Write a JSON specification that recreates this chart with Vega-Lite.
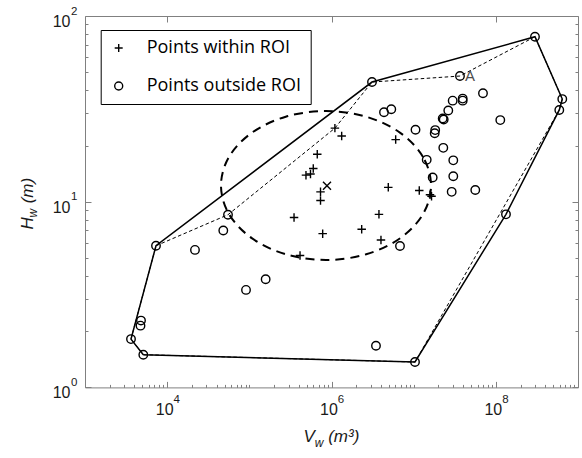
{
  "$schema": "https://vega.github.io/schema/vega-lite/v6.json",
  "width": 493,
  "height": 371.4,
  "autosize": {"type": "none"},
  "padding": {"left": 85, "top": 16, "right": 4, "bottom": 70.6},
  "background": "white",
  "config": {
    "view": {"stroke": "#808080", "strokeWidth": 1},
    "axis": {
      "grid": false,
      "domain": false,
      "tickColor": "#808080",
      "tickWidth": 1,
      "labelFont": "Liberation Sans",
      "labelFontSize": 16,
      "labelColor": "#1a1a1a",
      "titleFont": "Liberation Sans",
      "titleFontSize": 17,
      "titleFontStyle": "italic",
      "titleFontWeight": "normal",
      "titleColor": "#1a1a1a"
    }
  },
  "datasets": {
    "points": [
      {"V": 1.10e6, "H": 24.9, "type": "Points within ROI"},
      {"V": 1.33e6, "H": 22.6, "type": "Points within ROI"},
      {"V": 6.71e5, "H": 18.0, "type": "Points within ROI"},
      {"V": 4.89e5, "H": 13.9, "type": "Points within ROI"},
      {"V": 5.55e5, "H": 14.1, "type": "Points within ROI"},
      {"V": 6.00e5, "H": 15.1, "type": "Points within ROI"},
      {"V": 7.35e5, "H": 11.3, "type": "Points within ROI"},
      {"V": 7.35e5, "H": 10.15, "type": "Points within ROI"},
      {"V": 3.50e5, "H": 8.22, "type": "Points within ROI"},
      {"V": 7.81e5, "H": 6.73, "type": "Points within ROI"},
      {"V": 4.14e5, "H": 5.13, "type": "Points within ROI"},
      {"V": 6.04e6, "H": 21.6, "type": "Points within ROI"},
      {"V": 4.91e6, "H": 11.95, "type": "Points within ROI"},
      {"V": 1.17e7, "H": 11.5, "type": "Points within ROI"},
      {"V": 1.58e7, "H": 10.9, "type": "Points within ROI"},
      {"V": 1.65e7, "H": 10.7, "type": "Points within ROI"},
      {"V": 3.78e6, "H": 8.55, "type": "Points within ROI"},
      {"V": 2.33e6, "H": 7.10, "type": "Points within ROI"},
      {"V": 4.00e6, "H": 6.22, "type": "Points within ROI"},
      {"V": 2.995e8, "H": 77.35, "type": "Points outside ROI"},
      {"V": 3.661e7, "H": 47.5, "type": "Points outside ROI"},
      {"V": 3.111e6, "H": 44.1, "type": "Points outside ROI"},
      {"V": 6.437e8, "H": 35.7, "type": "Points outside ROI"},
      {"V": 5.92e8, "H": 31.2, "type": "Points outside ROI"},
      {"V": 4.354e6, "H": 30.3, "type": "Points outside ROI"},
      {"V": 5.34e6, "H": 31.45, "type": "Points outside ROI"},
      {"V": 2.984e7, "H": 35.0, "type": "Points outside ROI"},
      {"V": 3.95e7, "H": 35.9, "type": "Points outside ROI"},
      {"V": 3.95e7, "H": 35.0, "type": "Points outside ROI"},
      {"V": 6.976e7, "H": 38.35, "type": "Points outside ROI"},
      {"V": 2.638e7, "H": 31.0, "type": "Points outside ROI"},
      {"V": 2.256e7, "H": 28.05, "type": "Points outside ROI"},
      {"V": 2.32e7, "H": 27.7, "type": "Points outside ROI"},
      {"V": 1.133e8, "H": 27.5, "type": "Points outside ROI"},
      {"V": 1.053e7, "H": 24.4, "type": "Points outside ROI"},
      {"V": 1.828e7, "H": 24.3, "type": "Points outside ROI"},
      {"V": 1.803e7, "H": 23.35, "type": "Points outside ROI"},
      {"V": 2.294e7, "H": 19.5, "type": "Points outside ROI"},
      {"V": 3.035e7, "H": 16.7, "type": "Points outside ROI"},
      {"V": 1.441e7, "H": 16.8, "type": "Points outside ROI"},
      {"V": 1.704e7, "H": 13.5, "type": "Points outside ROI"},
      {"V": 3.035e7, "H": 13.7, "type": "Points outside ROI"},
      {"V": 2.902e7, "H": 11.3, "type": "Points outside ROI"},
      {"V": 5.622e7, "H": 11.56, "type": "Points outside ROI"},
      {"V": 6.817e6, "H": 5.77, "type": "Points outside ROI"},
      {"V": 1.329e8, "H": 8.55, "type": "Points outside ROI"},
      {"V": 3.478e6, "H": 1.677, "type": "Points outside ROI"},
      {"V": 1.038e7, "H": 1.370, "type": "Points outside ROI"},
      {"V": 7313, "H": 5.79, "type": "Points outside ROI"},
      {"V": 5.5e4, "H": 8.51, "type": "Points outside ROI"},
      {"V": 4.82e4, "H": 7.00, "type": "Points outside ROI"},
      {"V": 2.18e4, "H": 5.50, "type": "Points outside ROI"},
      {"V": 1.58e5, "H": 3.82, "type": "Points outside ROI"},
      {"V": 9.11e4, "H": 3.35, "type": "Points outside ROI"},
      {"V": 4803, "H": 2.29, "type": "Points outside ROI"},
      {"V": 4736, "H": 2.15, "type": "Points outside ROI"},
      {"V": 3629, "H": 1.82, "type": "Points outside ROI"},
      {"V": 5124, "H": 1.50, "type": "Points outside ROI"}
    ],
    "hull": [
      {"i": 0, "V": 5124, "H": 1.50},
      {"i": 1, "V": 3629, "H": 1.82},
      {"i": 2, "V": 7313, "H": 5.79},
      {"i": 3, "V": 3.111e6, "H": 44.1},
      {"i": 4, "V": 2.995e8, "H": 77.35},
      {"i": 5, "V": 6.437e8, "H": 35.7},
      {"i": 6, "V": 5.92e8, "H": 31.2},
      {"i": 7, "V": 1.329e8, "H": 8.55},
      {"i": 8, "V": 1.038e7, "H": 1.370},
      {"i": 9, "V": 5124, "H": 1.50}
    ],
    "inner": [
      {"i": 0, "V": 7313, "H": 5.79},
      {"i": 1, "V": 5.5e4, "H": 8.51},
      {"i": 2, "V": 1.10e6, "H": 24.9},
      {"i": 3, "V": 3.111e6, "H": 44.1},
      {"i": 4, "V": 3.661e7, "H": 47.5},
      {"i": 5, "V": 2.995e8, "H": 77.35},
      {"i": 6, "V": 6.437e8, "H": 35.7},
      {"i": 7, "V": 5.92e8, "H": 31.2},
      {"i": 8, "V": 1.038e7, "H": 1.370},
      {"i": 9, "V": 5124, "H": 1.50},
      {"i": 10, "V": 3629, "H": 1.82},
      {"i": 11, "V": 7313, "H": 5.79}
    ],
    "roi": [
      {"i": 0, "V": 1.626e7, "H": 12.22},
      {"i": 1, "V": 1.30e7, "H": 17.41},
      {"i": 2, "V": 6.866e6, "H": 23.49},
      {"i": 3, "V": 2.645e6, "H": 28.69},
      {"i": 4, "V": 8.57e5, "H": 30.77},
      {"i": 5, "V": 2.777e5, "H": 28.69},
      {"i": 6, "V": 1.07e5, "H": 23.49},
      {"i": 7, "V": 5.65e4, "H": 17.41},
      {"i": 8, "V": 4.52e4, "H": 12.22},
      {"i": 9, "V": 5.65e4, "H": 8.58},
      {"i": 10, "V": 1.07e5, "H": 6.365},
      {"i": 11, "V": 2.777e5, "H": 5.21},
      {"i": 12, "V": 8.57e5, "H": 4.856},
      {"i": 13, "V": 2.645e6, "H": 5.21},
      {"i": 14, "V": 6.866e6, "H": 6.365},
      {"i": 15, "V": 1.30e7, "H": 8.58}
    ],
    "centre": [{"V": 8.81e5, "H": 12.18}],
    "tags": [{"V": 3.661e7, "H": 47.5, "label": "A"}]
  },
  "resolve": {"axis": {"x": "independent", "y": "independent"}},
  "layer": [
    {
      "data": {"name": "roi"},
      "mark": {"type": "line", "interpolate": "cardinal-closed", "color": "black", "strokeWidth": 2, "strokeDash": [9, 6]},
      "encoding": {
        "x": {"field": "V", "type": "quantitative", "scale": {"type": "log", "domain": [1000, 1000000000]},
          "axis": {"orient": "bottom", "values": [10000, 1000000, 100000000],
            "labelExpr": "'10'",
            "ticks": false, "labelPadding": 26.6, "labelOffset": -3, "labelBaseline": "alphabetic", "labelFlush": false, "labelOverlap": false,
            "title": "V", "titleX": 218, "titleY": 53.6, "titleAlign": "left", "titleBaseline": "alphabetic", "titleAngle": 0}},
        "y": {"field": "H", "type": "quantitative", "scale": {"type": "log", "domain": [1, 100]},
          "axis": {"orient": "left", "values": [1, 10, 100],
            "labelExpr": "'10'",
            "ticks": false, "labelPadding": 15, "labelBaseline": "alphabetic", "labelOffset": 10.3, "labelFlush": false, "labelOverlap": false,
            "title": "H", "titleX": -53, "titleY": 213, "titleAlign": "left", "titleBaseline": "alphabetic", "titleAngle": 270}},
        "order": {"field": "i", "type": "quantitative"}
      }
    },
    {
      "data": {"name": "inner"},
      "mark": {"type": "line", "color": "black", "strokeWidth": 1, "strokeDash": [3.5, 2.5]},
      "encoding": {
        "x": {"field": "V", "type": "quantitative", "scale": {"type": "log", "domain": [1000, 1000000000]},
          "axis": {"orient": "bottom", "values": [10000, 1000000, 100000000], "tickSize": -6,
            "labelExpr": "datum.value == 10000 ? '4' : datum.value == 1000000 ? '6' : '8'",
            "labelFontSize": 11.5, "labelPadding": 20.6, "labelOffset": 9, "labelBaseline": "alphabetic", "labelFlush": false, "labelOverlap": false,
            "title": "w", "titleX": 229.3, "titleY": 58.6, "titleAlign": "left", "titleBaseline": "alphabetic", "titleFontSize": 12, "titleAngle": 0}},
        "y": {"field": "H", "type": "quantitative", "scale": {"type": "log", "domain": [1, 100]},
          "axis": {"orient": "left", "values": [1, 10, 100], "tickSize": -6,
            "labelExpr": "datum.value == 1 ? '0' : datum.value == 10 ? '1' : '2'",
            "labelFontSize": 11.5, "labelPadding": 14, "labelOffset": -2, "labelBaseline": "alphabetic", "labelFlush": false, "labelOverlap": false,
            "title": "w", "titleX": -48.5, "titleY": 201, "titleAlign": "left", "titleBaseline": "alphabetic", "titleFontSize": 12, "titleAngle": 270}},
        "order": {"field": "i", "type": "quantitative"}
      }
    },
    {
      "data": {"name": "hull"},
      "mark": {"type": "line", "color": "black", "strokeWidth": 1.5},
      "encoding": {
        "x": {"field": "V", "type": "quantitative", "scale": {"type": "log", "domain": [1000, 1000000000]},
          "axis": {"orient": "bottom", "labels": false, "tickSize": -3,
            "values": [2000, 3000, 4000, 5000, 6000, 7000, 8000, 9000, 20000, 30000, 40000, 50000, 60000, 70000, 80000, 90000, 100000, 200000, 300000, 400000, 500000, 600000, 700000, 800000, 900000, 2000000, 3000000, 4000000, 5000000, 6000000, 7000000, 8000000, 9000000, 10000000, 20000000, 30000000, 40000000, 50000000, 60000000, 70000000, 80000000, 90000000, 200000000, 300000000, 400000000, 500000000, 600000000, 700000000, 800000000, 900000000],
            "title": "(m\u00b3)", "titleX": 242.7, "titleY": 53.6, "titleAlign": "left", "titleBaseline": "alphabetic", "titleAngle": 0}},
        "y": {"field": "H", "type": "quantitative", "scale": {"type": "log", "domain": [1, 100]},
          "axis": {"orient": "left", "labels": false, "tickSize": -3,
            "values": [2, 3, 4, 5, 6, 7, 8, 9, 20, 30, 40, 50, 60, 70, 80, 90],
            "title": "(m)", "titleX": -53, "titleY": 186.8, "titleAlign": "left", "titleBaseline": "alphabetic", "titleAngle": 270}},
        "order": {"field": "i", "type": "quantitative"}
      }
    },
    {
      "data": {"name": "points"},
      "mark": {"type": "point", "filled": false, "strokeWidth": 1.4, "size": 72, "opacity": 1},
      "encoding": {
        "x": {"field": "V", "type": "quantitative", "scale": {"type": "log", "domain": [1000, 1000000000]},
          "axis": {"orient": "top", "values": [10000, 1000000, 100000000], "labels": false, "tickSize": -6, "title": null}},
        "y": {"field": "H", "type": "quantitative", "scale": {"type": "log", "domain": [1, 100]},
          "axis": {"orient": "right", "values": [1, 10, 100], "labels": false, "tickSize": -6, "title": null}},
        "color": {"value": "black"},
        "shape": {"field": "type", "type": "nominal",
          "scale": {"domain": ["Points within ROI", "Points outside ROI"], "range": ["M-1,0H1M0,-1V1", "circle"]},
          "legend": {"orient": "none", "legendX": 15.7, "legendY": 14, "title": null, "direction": "vertical",
            "strokeColor": "black", "fillColor": "white", "padding": 9,
            "labelFont": "Open Sans", "labelFontSize": 18, "labelColor": "black", "labelOffset": 19, "labelLimit": 300,
            "rowPadding": 20, "symbolSize": 64, "symbolStrokeWidth": 1.4, "symbolStrokeColor": "black",
            "encode": {"legend": {"update": {"strokeWidth": {"value": 1.5}}}}}}
      }
    },
    {
      "data": {"name": "centre"},
      "mark": {"type": "point", "filled": false, "strokeWidth": 1.4, "size": 64, "opacity": 1, "color": "black", "shape": "M-1,-1L1,1M-1,1L1,-1"},
      "encoding": {
        "x": {"field": "V", "type": "quantitative", "scale": {"type": "log", "domain": [1000, 1000000000]}, "axis": null},
        "y": {"field": "H", "type": "quantitative", "scale": {"type": "log", "domain": [1, 100]},
          "axis": {"orient": "right", "labels": false, "tickSize": -3, "title": null,
            "values": [2, 3, 4, 5, 6, 7, 8, 9, 20, 30, 40, 50, 60, 70, 80, 90]}}
      }
    },
    {
      "data": {"name": "tags"},
      "mark": {"type": "text", "align": "left", "baseline": "middle", "dx": 5, "font": "Liberation Sans", "fontSize": 15, "color": "#4d4d4d"},
      "encoding": {
        "x": {"field": "V", "type": "quantitative", "scale": {"type": "log", "domain": [1000, 1000000000]}, "axis": null},
        "y": {"field": "H", "type": "quantitative", "scale": {"type": "log", "domain": [1, 100]}, "axis": null},
        "text": {"field": "label"}
      }
    }
  ]
}
